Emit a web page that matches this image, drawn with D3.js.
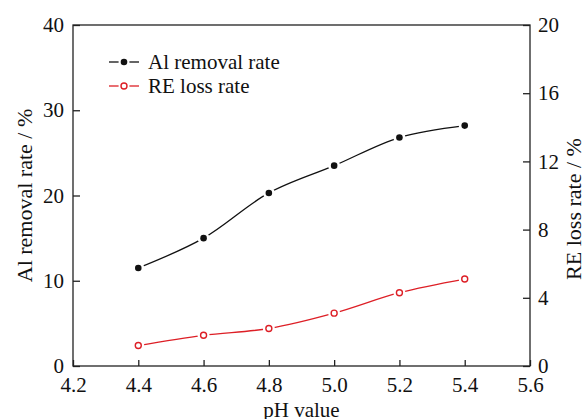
<!DOCTYPE html>
<html>
<head>
<meta charset="utf-8">
<script src="https://d3js.org/d3.v7.min.js"></script>
<style>
  body { margin: 0; background: #fff; }
  svg text { font-family: "Liberation Serif", "Times New Roman", "DejaVu Serif", serif !important; }
</style>
</head>
<body>
<script>
const phValues = [4.4, 4.6, 4.8, 5.0, 5.2, 5.4];
const alRemoval = [11.5, 15.0, 20.3, 23.5, 26.8, 28.2];
const reLoss = [1.2, 1.8, 2.2, 3.1, 4.3, 5.1];
const xTicks = [4.2, 4.4, 4.6, 4.8, 5.0, 5.2, 5.4, 5.6];
const yLeftTicks = [0, 10, 20, 30, 40];
const yRightTicks = [0, 4, 8, 12, 16, 20];

const width = 582, height = 419;
const m = { top: 25, right: 52, bottom: 53, left: 73 };
const serif = '"Liberation Serif", "Times New Roman", serif';

const svg = d3.select("body").append("svg")
  .attr("width", width)
  .attr("height", height)
  .attr("font-family", serif);

const x = d3.scaleLinear().domain([4.2, 5.6]).range([m.left, width - m.right]);
const yL = d3.scaleLinear().domain([0, 40]).range([height - m.bottom, m.top]);
const yR = d3.scaleLinear().domain([0, 20]).range([height - m.bottom, m.top]);

const axisColor = "#222";
const fs = 21;

function styleAxis(g) {
  g.attr("font-family", serif);
  g.select(".domain").remove();
  g.selectAll("line").attr("stroke", axisColor).attr("stroke-width", 1.3);
  g.selectAll("text").attr("fill", "#111").attr("font-size", fs);
}

svg.append("g")
  .attr("transform", `translate(0,${height - m.bottom})`)
  .call(d3.axisBottom(x).tickValues(xTicks).tickFormat(d3.format(".1f"))
    .tickSizeInner(-6).tickSizeOuter(0).tickPadding(11))
  .call(styleAxis);

svg.append("g")
  .attr("transform", `translate(${m.left},0)`)
  .call(d3.axisLeft(yL).tickValues(yLeftTicks).tickSizeInner(-7).tickSizeOuter(0).tickPadding(9))
  .call(styleAxis);

svg.append("g")
  .attr("transform", `translate(${width - m.right},0)`)
  .call(d3.axisRight(yR).tickValues(yRightTicks).tickSizeInner(-7).tickSizeOuter(0).tickPadding(8))
  .call(styleAxis);

// frame
svg.append("rect")
  .attr("x", m.left).attr("y", m.top)
  .attr("width", width - m.left - m.right)
  .attr("height", height - m.top - m.bottom)
  .attr("fill", "none").attr("stroke", axisColor).attr("stroke-width", 1.3);

// axis titles
svg.append("text")
  .attr("x", (m.left + width - m.right) / 2).attr("y", 417)
  .attr("text-anchor", "middle").attr("font-size", 21).attr("fill", "#111")
  .text("pH value");

svg.append("text")
  .attr("transform", `translate(32,${(m.top + height - m.bottom) / 2}) rotate(-90)`)
  .attr("text-anchor", "middle").attr("font-size", 22).attr("fill", "#111")
  .text("Al removal rate / %");

svg.append("text")
  .attr("transform", `translate(581,209) rotate(-90)`)
  .attr("text-anchor", "middle").attr("font-size", 22).attr("fill", "#111")
  .text("RE loss rate / %");

const black = "#111", red = "#dd1f26";

const lineAl = d3.line().x((d, i) => x(phValues[i])).y(d => yL(d)).curve(d3.curveCatmullRom);
const lineRe = d3.line().x((d, i) => x(phValues[i])).y(d => yR(d)).curve(d3.curveCatmullRom);

function drawSeries(vals, line, yScale, color, filled) {
  svg.append("path").datum(vals)
    .attr("d", line).attr("fill", "none")
    .attr("stroke", color).attr("stroke-width", 1.3);
  // white gaps around markers
  svg.append("g").selectAll("circle").data(vals).join("circle")
    .attr("cx", (d, i) => x(phValues[i])).attr("cy", d => yScale(d))
    .attr("r", 6).attr("fill", "#fff");
  svg.append("g").selectAll("circle").data(vals).join("circle")
    .attr("cx", (d, i) => x(phValues[i])).attr("cy", d => yScale(d))
    .attr("r", filled ? 3.3 : 3)
    .attr("fill", filled ? color : "#fff")
    .attr("stroke", color).attr("stroke-width", filled ? 0 : 1.4);
}

drawSeries(alRemoval, lineAl, yL, black, true);
drawSeries(reLoss, lineRe, yR, red, false);

// legend
const legend = [
  { label: "Al removal rate", color: black, filled: true, y: 62 },
  { label: "RE loss rate", color: red, filled: false, y: 86 }
];
const lg = svg.append("g");
legend.forEach(d => {
  lg.append("line").attr("x1", 109).attr("x2", 139).attr("y1", d.y).attr("y2", d.y)
    .attr("stroke", d.color).attr("stroke-width", 1.3);
  lg.append("circle").attr("cx", 124).attr("cy", d.y).attr("r", 5.5).attr("fill", "#fff");
  lg.append("circle").attr("cx", 124).attr("cy", d.y).attr("r", d.filled ? 3.3 : 3)
    .attr("fill", d.filled ? d.color : "#fff")
    .attr("stroke", d.color).attr("stroke-width", d.filled ? 0 : 1.4);
  lg.append("text").attr("x", 148).attr("y", d.y).attr("dy", "0.35em")
    .attr("font-size", 21).attr("fill", "#111").text(d.label);
});
</script>
</body>
</html>
